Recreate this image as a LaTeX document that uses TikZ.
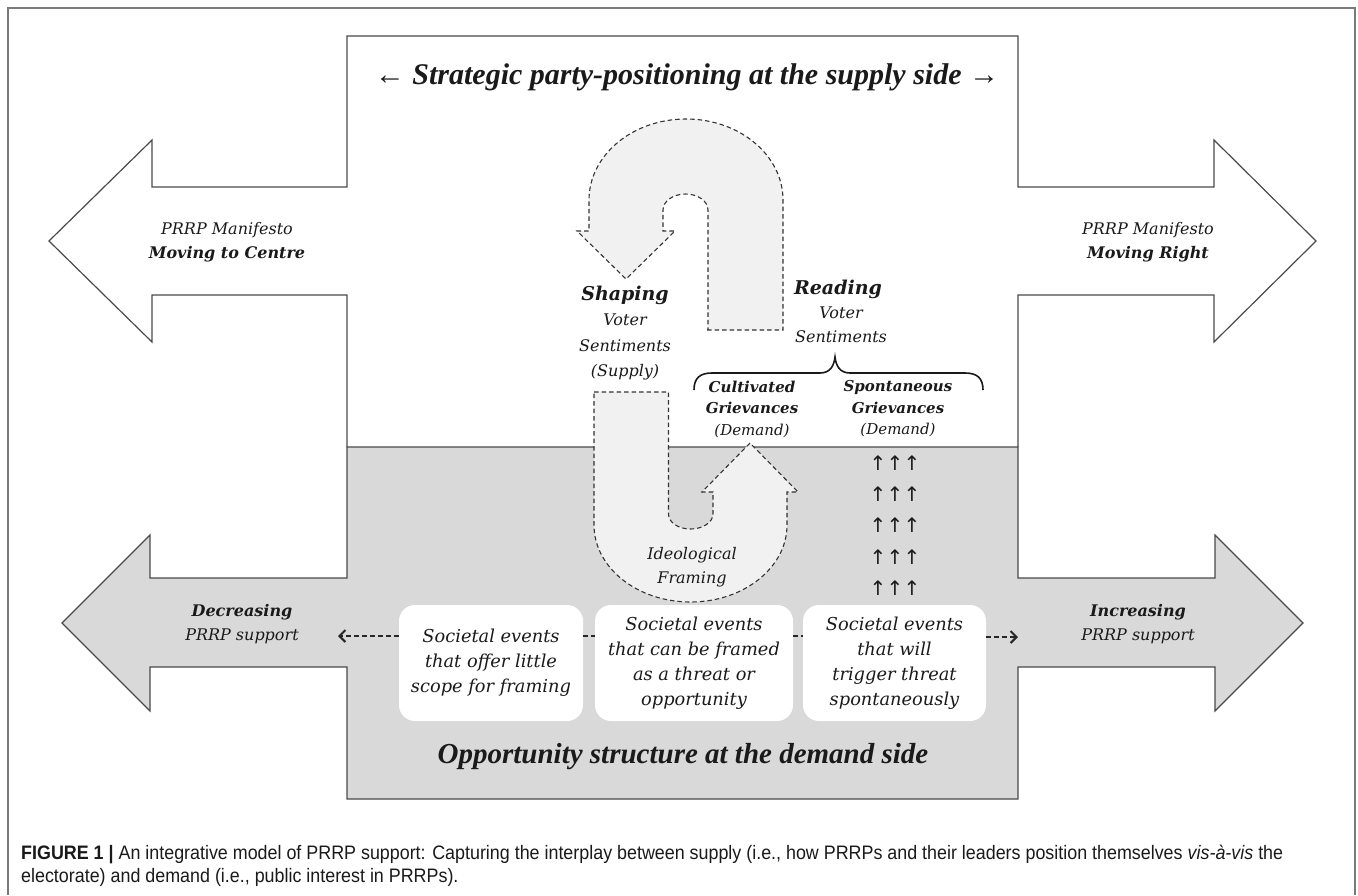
\documentclass[tikz,border=0pt]{standalone}
\usepackage{fontspec}
\setmainfont{DejaVu Serif}
\newfontfamily\titlefont{Liberation Serif}
\newfontfamily\capfont[FakeStretch=0.917]{Liberation Sans}
\newfontfamily\arrowfont{DejaVu Sans}
\usetikzlibrary{arrows.meta}
\definecolor{lineg}{HTML}{4A4A4A}
\definecolor{framecol}{HTML}{7A7A7A}
\definecolor{demandfill}{HTML}{D9D9D9}
\definecolor{ufill}{HTML}{F1F1F1}
\definecolor{dashcol}{HTML}{333333}
\definecolor{txt}{HTML}{1A1A1A}
\tikzset{
  frameline/.style={draw=framecol, line width=1.3pt},
  bigshape/.style={draw=lineg, line width=1.2pt, line join=miter},
  uturn/.style={draw=dashcol, fill=ufill, line width=1.1pt, dash pattern=on 4.5pt off 3pt, line join=miter},
  lab/.style={font=\fontsize{16}{24}\selectfont\itshape, align=center, inner sep=0pt, text=txt},
  labb/.style={font=\fontsize{15}{21.5}\selectfont\bfseries\itshape, align=center, inner sep=0pt, text=txt},
  headlab/.style={font=\fontsize{19}{24}\selectfont\bfseries\itshape, inner sep=0pt, text=txt},
  evbox/.style={fill=white, rounded corners=16pt, inner sep=0pt, align=center, text=txt, font=\fontsize{17.8}{25}\selectfont\itshape},
  dashcon/.style={draw=black!85, line width=2pt, dash pattern=on 5pt off 3pt},
  barbtip/.style={-{Straight Barb[length=6pt,width=12pt,line width=2pt]}},
  bigtitle/.style={font=\titlefont\fontsize{30}{34}\selectfont\bfseries\itshape, inner sep=0pt, text=txt},
  uparrow/.style={font=\arrowfont\fontsize{20}{20}\selectfont, inner sep=0pt, text=txt}
}
\begin{document}
\begin{tikzpicture}[x=1pt,y=-1pt]
\useasboundingbox (0,0) rectangle (1358,895);
\fill[white] (0,0) rectangle (1358,895);
% outer frame
\draw[frameline] (8,895) -- (8,8) -- (1355,8) -- (1355,895);

% supply side (white cross with arrows)
\draw[bigshape, fill=white] (347,447) -- (347,295) -- (152,295) -- (152,342) -- (49,241) -- (152,140) -- (152,187) -- (347,187) -- (347,36)
  -- (1018,36) -- (1018,187) -- (1214,187) -- (1214,140) -- (1316,241) -- (1214,342) -- (1214,295) -- (1018,295) -- (1018,447);

% demand side (grey)
\draw[bigshape, fill=demandfill] (347,447) -- (1018,447) -- (1018,578) -- (1215,578) -- (1215,535) -- (1303,623) -- (1215,711) -- (1215,667)
  -- (1018,667) -- (1018,799) -- (347,799) -- (347,667) -- (150,667) -- (150,711) -- (62,623) -- (150,535) -- (150,578) -- (347,578) -- cycle;

% upper U-turn arrow (reading -> shaping)
\draw[uturn] (707,330) -- (783,330) -- (783,200)
  .. controls (783,155.3) and (739.6,119) .. (686,119)
  .. controls (632.4,119) and (589,155.3) .. (589,200)
  -- (589,231) -- (577,231) -- (626,279) -- (675,231) -- (663,231) -- (663,210)
  .. controls (663,201.2) and (673.1,194) .. (685.5,194)
  .. controls (697.9,194) and (708,201.2) .. (708,210)
  -- (708,330) -- cycle;

% lower U-turn arrow (shaping -> ideological framing -> cultivated grievances)
\draw[uturn] (594,392) -- (668.5,392) -- (668.5,514)
  .. controls (668.5,522.3) and (678.1,529) .. (690.5,529)
  .. controls (702.9,529) and (713,522.3) .. (713,514)
  -- (713,492) -- (702,492) -- (750,443) -- (798,492) -- (787,492) -- (787,525)
  .. controls (787,567.5) and (743.8,602) .. (690.5,602)
  .. controls (637.2,602) and (594,567.5) .. (594,525)
  -- cycle;

% title
\node[bigtitle] (title) at (687,77) {← Strategic party-positioning at the supply side →};

% arrow labels
\node[lab] (mcentre) at (227,242) {PRRP Manifesto\\\textbf{Moving to Centre}};
\node[lab] (mright) at (1148,242) {PRRP Manifesto\\\textbf{Moving Right}};
\node[lab] (decr) at (242,624) {\textbf{Decreasing}\\PRRP support};
\node[lab] (incr) at (1138,624) {\textbf{Increasing}\\PRRP support};

% shaping / reading
\node[headlab] (shaping) at (625,295) {Shaping};
\node[lab, font=\fontsize{16}{25.5}\selectfont\itshape] (shapingsub) at (625,347) {Voter\\Sentiments\\(Supply)};
\node[headlab] (reading) at (838,289) {Reading};
\node[lab] (readingsub) at (841,325) {Voter\\Sentiments};

% brace
\draw[line width=1.6pt, draw=txt] (694,390) .. controls (694,378) and (700,373) .. (712,373) -- (820,373)
  .. controls (830,373) and (834,366) .. (835,357)
  .. controls (836,366) and (840,373) .. (850,373) -- (965,373)
  .. controls (977,373) and (983,378) .. (983,390);

% grievances
\node[labb] (cult) at (752,409) {Cultivated\\Grievances\\\mdseries(Demand)};
\node[labb] (spont) at (898,409) {Spontaneous\\Grievances\\\mdseries(Demand)};

% spontaneous arrows
\foreach \r/\yy in {1/463,2/494,3/525,4/557,5/588}{
  \foreach \c/\xx in {1/878,2/895,3/912}{
    \node[uparrow] (up\r\c) at (\xx,\yy) {↑};
  }
}

% ideological framing
\node[lab] (ideo) at (692,567) {Ideological\\Framing};

% event boxes
\node[evbox, minimum width=184pt, minimum height=116pt] (box1) at (491,663) {Societal events\\that offer little\\scope for framing};
\node[evbox, minimum width=198pt, minimum height=116pt] (box2) at (694,663) {Societal events\\that can be framed\\as a threat or\\opportunity};
\node[evbox, minimum width=183pt, minimum height=116pt] (box3) at (894.5,663) {Societal events\\that will\\trigger threat\\spontaneously};

% dashed connectors
\coordinate (ltip) at (338,636);
\coordinate (rtip) at (1018,637);
\draw[dashcon, barbtip] (box1.west |- ltip) -- (ltip);
\draw[dashcon] (box1.east |- ltip) -- (box2.west |- ltip);
\draw[dashcon] (box2.east |- ltip) -- (box3.west |- ltip);
\draw[dashcon, barbtip] (box3.east |- rtip) -- (rtip);

% opportunity title
\node[bigtitle, font=\titlefont\fontsize{29}{34}\selectfont\bfseries\itshape] (opp) at (683,757) {Opportunity structure at the demand side};

% caption
\node[anchor=base west, inner sep=0pt, align=left, text=txt, font=\capfont\fontsize{19.5}{23}\selectfont] (caption) at (21,882)
  {{\bfseries FIGURE 1 |} An integrative model of PRRP support: Capturing the interplay between supply (i.e., how PRRPs and their leaders position themselves \textit{vis-à-vis} the\\electorate) and demand (i.e., public interest in PRRPs).};
\end{tikzpicture}
\end{document}
